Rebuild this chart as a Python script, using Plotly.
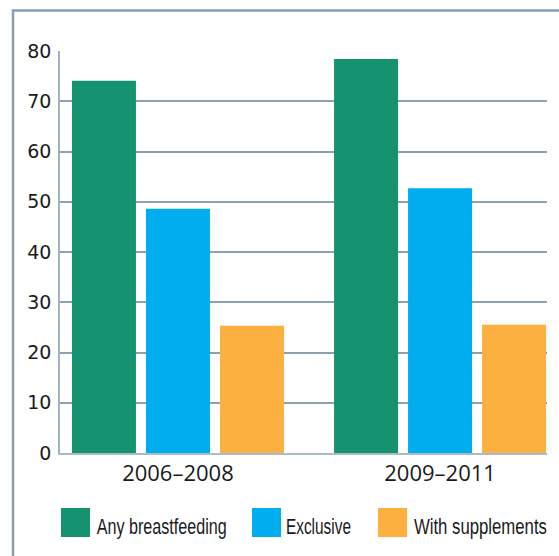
import plotly.graph_objects as go

periods = ["2006–2008", "2009–2011"]
series_names = ["Any breastfeeding", "Exclusive", "With supplements"]
any_bf = [74.1, 78.4]
exclusive = [48.6, 52.7]
with_supp = [25.3, 25.5]
colors = ["#15926F", "#00AEEF", "#FBB040"]
y_ticks = [0, 10, 20, 30, 40, 50, 60, 70, 80]

W, H = 559, 556
L, R, T, B = 60, 12, 51, 103
PW, PH = W - L - R, H - T - B

def px_x(p):
    return (p - L) / PW

def px_y(p):
    return (H - B - p) / PH

fig = go.Figure()
xs = list(range(len(periods)))
for name, vals, c in zip(series_names, [any_bf, exclusive, with_supp], colors):
    fig.add_trace(go.Bar(x=xs, y=vals, name=name, marker=dict(color=c, line=dict(width=0)),
                         showlegend=False, hoverinfo="skip"))

grid_col = "#8DA2AE"
fig.update_layout(
    width=W, height=H,
    margin=dict(l=L, r=R, t=T, b=B),
    paper_bgcolor="white", plot_bgcolor="white",
    barmode="group", bargap=0.153, bargroupgap=0.135,
    xaxis=dict(range=[-0.45, 1.408], tickmode="array", tickvals=xs, ticktext=periods,
               showgrid=False, zeroline=False, showline=True, linecolor="#A9BCC7", linewidth=1.5,
               ticks="", tickfont=dict(family="Open Sans, sans-serif", size=22, color="#1a1a1a")),
    yaxis=dict(range=[0, 80], tickmode="array", tickvals=y_ticks,
               showgrid=True, gridcolor=grid_col, gridwidth=1.5, zeroline=False,
               showline=True, linecolor="#9FB3BF", linewidth=1.5, ticks="",
               ticklabelstandoff=3,
               tickfont=dict(family="DejaVu Sans, Verdana, sans-serif", size=19, color="#1a1a1a")),
    font=dict(family="DejaVu Sans, sans-serif"),
)

# outer frame (left and top edges)
fx = px_x(13)
fy = px_y(10.5)
fig.add_shape(type="path", xref="paper", yref="paper",
              path=f"M {fx} {px_y(560)} L {fx} {fy} L {px_x(561)} {fy}",
              line=dict(color="#87A0AE", width=2.5))

# legend
sq_left = [61, 252, 378]
txt_left = [96, 286, 414]
txt_width = [130, 65, 133]
for name, c, sl, tl, tw in zip(series_names, colors, sq_left, txt_left, txt_width):
    fig.add_shape(type="rect", xref="paper", yref="paper",
                  x0=px_x(sl), x1=px_x(sl + 29), y0=px_y(508), y1=px_y(537),
                  fillcolor=c, line=dict(width=0))
    fig.add_annotation(xref="paper", yref="paper", x=px_x(tl + tw / 2), y=px_y(526),
                       xanchor="center", yanchor="middle", showarrow=False, text=name,
                       font=dict(family="Liberation Sans, Arial, sans-serif",
                                 size=22, color="#1a1a1a"))

post = """
document.body.style.margin='0';
var widths = %s;
var names = %s;
document.querySelectorAll('text.annotation-text').forEach(function(t){
  var i = names.indexOf(t.textContent);
  if (i >= 0) {
    t.setAttribute('textLength', widths[i]);
    t.setAttribute('lengthAdjust', 'spacingAndGlyphs');
    var r = t.parentNode.querySelector('rect.bg');
    if (r) {
      var w0 = parseFloat(r.getAttribute('width'));
      var x0 = parseFloat(r.getAttribute('x') || 0);
      r.setAttribute('x', x0 + (w0 - widths[i]) / 2);
      r.setAttribute('width', widths[i]);
    }
  }
});
""" % (txt_width, series_names)

fig.write_html("out.html", post_script=post, config={"displayModeBar": False})
